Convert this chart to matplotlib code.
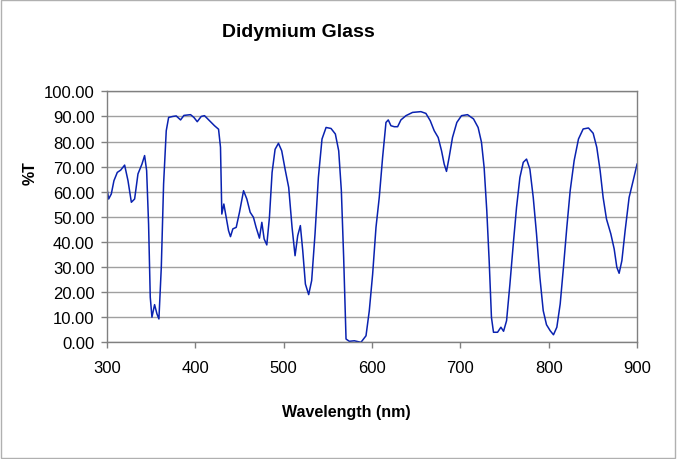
import numpy as np
import matplotlib.pyplot as plt
from matplotlib.patches import Rectangle

plt.rcParams['font.family'] = ['Liberation Sans', 'DejaVu Sans']

# spectrum (nm, %T)
wavelength = [300.0, 300.4, 301.9, 304.9, 307.9, 311.7, 315.5, 320.0, 323.8, 327.6, 331.3, 335.1,
              339.6, 342.6, 344.9, 347.1, 349.0, 350.9, 353.9, 356.6, 358.8, 361.5, 364.1, 367.1,
              369.8, 374.6, 378.4, 383.3, 387.1, 394.6, 398.4, 402.2, 406.7, 410.4, 416.1, 421.7,
              426.3, 428.5, 430.0, 432.3, 434.9, 437.6, 439.8,
              442.5, 446.3, 450.0, 454.6, 458.3, 462.1, 465.8, 468.8, 472.6, 475.3, 477.9, 480.9,
              483.9, 486.9, 490.3, 494.1, 497.8, 501.6, 505.7, 509.5, 512.9, 515.9, 518.9, 521.6,
              524.6, 528.3, 531.7, 535.5, 539.3, 543.4, 548.0, 553.6, 558.5, 562.3, 565.3, 567.9,
              570.6, 574.3,
              580.0, 587.5, 593.2, 596.9, 600.7, 604.5, 608.2, 612.0, 615.8, 618.4, 621.4, 625.2,
              629.0, 632.7, 638.4, 645.9, 655.3, 661.0, 665.9, 670.4, 674.9, 678.7, 681.7, 684.3,
              687.3, 691.1, 696.0, 701.3, 708.1, 714.9, 720.1, 723.9, 726.9, 729.9, 732.6, 735.2,
              737.5,
              742.1, 745.9, 748.9, 752.3, 756.1, 759.9, 763.6, 767.4, 771.2, 774.9, 778.7, 782.5,
              786.2, 790.0, 793.8, 797.5, 801.7, 805.4, 809.2, 813.0, 816.7, 820.5, 824.3, 828.8,
              833.7, 839.0, 845.0, 850.3, 854.4, 858.2, 861.6, 865.4, 870.3, 874.1, 877.1, 879.7,
              882.8, 886.5, 891.0, 895.6, 900.0]
transmittance = [61.8, 60.5, 57.1, 59.1, 64.4, 67.7, 68.6, 70.6, 64.4, 55.8, 57.1, 67.1,
                 71.0, 74.4, 68.4, 47.1, 18.0, 10.0, 15.0, 11.3, 9.3, 29.9, 63.1, 84.3,
                 89.6, 90.0, 90.2, 88.6, 90.4, 90.7, 89.6, 87.9, 90.0, 90.3, 88.3, 86.3,
                 84.9, 77.7, 51.1, 55.1, 49.8, 44.5, 42.1,
                 45.2, 45.8, 51.8, 60.4, 57.1, 51.8, 49.8, 45.8, 41.5, 47.8, 41.2, 38.8,
                 49.8, 67.7, 76.9, 79.3, 76.3, 69.0, 61.7, 45.8, 34.5, 42.5, 46.5, 36.5,
                 23.2, 19.0, 24.6, 43.2, 65.7, 81.0, 85.6, 85.2, 83.0, 76.3, 60.4, 33.9,
                 1.3, 0.4,
                 0.6, 0.0, 2.6, 12.5, 27.1, 45.8, 57.7, 73.7, 87.6, 88.6, 86.3, 85.9,
                 85.9, 88.6, 90.3, 91.6, 91.9, 91.2, 88.3, 84.3, 81.6, 76.3, 71.0, 68.1,
                 73.7, 81.6, 87.6, 90.3, 90.7, 89.0, 85.6, 79.7, 69.7, 52.5, 32.5, 9.9,
                 4.0,
                 4.0, 6.0, 4.4, 8.6, 23.2, 39.2, 53.8, 65.7, 71.7, 73.0, 69.0, 57.7,
                 43.2, 25.9, 12.6, 7.0, 4.6, 3.0, 6.0, 15.3, 29.9, 45.8, 60.4, 72.4,
                 81.0, 85.0, 85.4, 83.3, 77.7, 68.4, 57.7, 49.1, 43.2, 37.2, 29.9, 27.5,
                 32.5, 44.5, 57.7, 64.4, 71.0]

x_ticks = [300, 400, 500, 600, 700, 800, 900]
y_ticks = [0, 10, 20, 30, 40, 50, 60, 70, 80, 90, 100]

fig = plt.figure(figsize=(6.77, 4.6), dpi=100)
ax = fig.add_axes([0.158, 0.2537, 0.783, 0.5456])

ax.plot(wavelength, transmittance, color='#0a22b0', linewidth=1.1)

ax.set_xlim(300, 900)
ax.set_ylim(0, 100)
ax.set_xticks(x_ticks)
ax.set_yticks(y_ticks)
ax.set_yticklabels([f'{v:.2f}' for v in y_ticks])
ax.tick_params(axis='both', labelsize=12, direction='out', length=4, color='#808080', width=1)
ax.tick_params(axis='x', pad=9)
ax.tick_params(axis='y', pad=5)
ax.grid(True, axis='y', color='#a0a0a0', linewidth=1)
ax.set_axisbelow(True)
for s in ax.spines.values():
    s.set_color('#808080')
    s.set_linewidth(1)

ax.set_xlabel('Wavelength (nm)', fontsize=11.5, fontweight='bold')
ax.xaxis.set_label_coords(0.452, -0.245)
ax.set_ylabel('%T', fontsize=11.5, fontweight='bold')
ax.yaxis.set_label_coords(-0.13, 0.68)
fig.text(0.441, 0.93, 'Didymium Glass', fontsize=14, fontweight='bold', ha='center', va='center')

fig.patches.append(Rectangle((0.002, 0.003), 0.995, 0.994, transform=fig.transFigure,
                             fill=False, edgecolor='#b0b0b0', linewidth=1))

fig.savefig('out.png', dpi=100)
